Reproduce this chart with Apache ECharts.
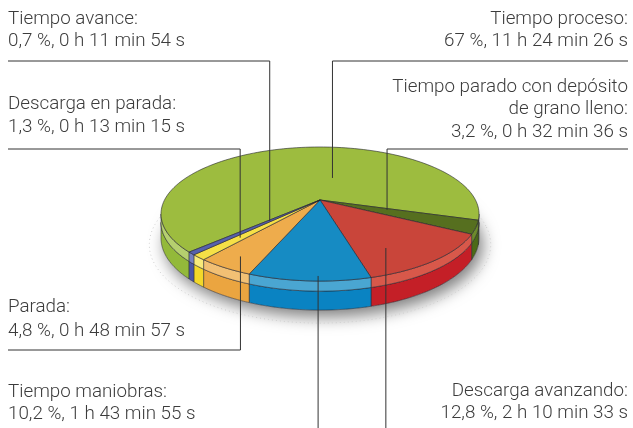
<!DOCTYPE html>
<html><head><meta charset="utf-8">
<script src="https://cdn.jsdelivr.net/npm/echarts@6/dist/echarts.min.js"></script>
<style>html,body{margin:0;padding:0;background:#fff}#c{width:633px;height:428px}</style>
</head><body><div id="c"></div>
<script>
// ---- data ----
const categories = ['Tiempo proceso', 'Tiempo parado con depósito de grano lleno', 'Descarga avanzando', 'Tiempo maniobras', 'Parada', 'Descarga en parada', 'Tiempo avance'];
const percentValues = [67, 3.2, 12.8, 10.2, 4.8, 1.3, 0.7];
const durationLabels = ['11 h 24 min 26 s', '0 h 32 min 36 s', '2 h 10 min 33 s', '1 h 43 min 55 s', '0 h 48 min 57 s', '0 h 13 min 15 s', '0 h 11 min 54 s'];
const titleLines = [['Tiempo proceso:'], ['Tiempo parado con depósito', 'de grano lleno:'], ['Descarga avanzando:'], ['Tiempo maniobras:'], ['Parada:'], ['Descarga en parada:'], ['Tiempo avance:']];

// ---- styles ----
const topColors  = ['#9dbc3f', '#566f1f', '#c9453a', '#168bc3', '#eeac4c', '#f6e046', '#5661ad'];
const rimColors  = ['#b5cf6f', '#6d8a2c', '#d8584a', '#4aa6d2', '#f2c074', '#f8ea7a', '#7680c0'];
const sideColors = ['#93b93a', '#4c6a17', '#c41f27', '#0a83c2', '#eba540', '#f3d82a', '#4a55a6'];

const G = { x0: 320, y0: 200, A: 155.5, B: 64.1, p: 0.209, rim: 8, depth: 23, start: 136 };
G.sil = Math.asin(G.p) * 180 / Math.PI;

const labelLayout = [
  { align: 'right', tx: 628, base: [25, 47], lineY: 61, lineEnd: 628, f: 0.61, r: 0.38 },
  { align: 'right', tx: 628, base: [93, 115, 138], lineY: 149, lineEnd: 628, f: 0.23, r: 0.444 },
  { align: 'right', tx: 628, base: [397, 419], lineY: null, down: 430, f: 0.69, r: 0.744 },
  { align: 'left', tx: 8, base: [398, 420], lineY: null, down: 430, f: 0.43, r: 0.95 },
  { align: 'left', tx: 8, base: [313, 337], lineY: 350, lineEnd: 8, f: 0.5, r: 0.86 },
  { align: 'left', tx: 8, base: [110, 133], lineY: 149, lineEnd: 8, f: 0.5, r: 0.695 },
  { align: 'left', tx: 8, base: [25, 47], lineY: 61, lineEnd: 8, f: 0.5, r: 0.43 }
];

// ---- geometry ----
const total = percentValues.reduce((a, b) => a + b, 0);
const bounds = [];
let acc = G.start;
percentValues.forEach(v => { const s = acc; acc += v / total * 360; bounds.push([s, acc]); });

function proj(r, deg, drop) {
  const t = deg * Math.PI / 180;
  const u = r * Math.cos(t), v = r * Math.sin(t);
  const w = 1 / (1 - G.p * v);
  return [G.x0 + G.A * u * w, G.y0 + (G.B * v + drop) * w];
}
function arcPts(r, a0, a1, drop) {
  const pts = [];
  const steps = Math.max(2, Math.ceil(Math.abs(a1 - a0) / 2));
  for (let k = 0; k <= steps; k++) pts.push(proj(r, a0 + (a1 - a0) * k / steps, drop));
  return pts;
}
function visibleRanges(a0, a1) {
  const res = [];
  [0, 360].forEach(base => {
    const lo = Math.max(a0, base + G.sil), hi = Math.min(a1, base + 180 - G.sil);
    if (hi > lo) res.push([lo, hi]);
  });
  return res;
}

const edge = 'rgba(35,35,45,0.75)';

function renderItem(params, api) {
  const i = params.dataIndex;
  const [a0, a1] = bounds[i];
  const children = [];
  if (i === 0) {
    children.push({
      type: 'polygon', z2: 0,
      shape: { points: arcPts(1, 0, 360, G.depth) },
      style: { fill: '#ffffff', shadowBlur: 16, shadowColor: 'rgba(0,0,0,0.5)', shadowOffsetX: 4, shadowOffsetY: 7 }
    });
    children.push({
      type: 'polygon', z2: 1,
      shape: { points: arcPts(1.07, 0, 360, G.depth + 4) },
      style: { fill: null, stroke: '#cfcfcf', lineWidth: 1, lineDash: [1, 3] }
    });
  }
  children.push({
    type: 'polygon', z2: 30,
    shape: { points: [proj(0, 0, 0)].concat(arcPts(1, a0, a1, 0)) },
    style: { fill: topColors[i], stroke: edge, lineWidth: 0.8, lineJoin: 'round' }
  });
  visibleRanges(a0, a1).forEach(([lo, hi]) => {
    const up = arcPts(1, lo, hi, 0);
    const midF = arcPts(1, lo, hi, G.rim);
    const midB = arcPts(1, lo, hi, G.rim).reverse();
    const bot = arcPts(1, lo, hi, G.depth).reverse();
    children.push({
      type: 'polygon', z2: 20,
      shape: { points: up.concat(midB) },
      style: { fill: rimColors[i], stroke: edge, lineWidth: 0.7 }
    });
    children.push({
      type: 'polygon', z2: 10,
      shape: { points: midF.concat(bot) },
      style: { fill: sideColors[i], stroke: edge, lineWidth: 0.7 }
    });
  });
  return { type: 'group', children };
}

// ---- labels ----
const fmt = v => String(v).replace('.', ',') + ' %, ';
const graphics = [];
const textStyle = { fontSize: 18.8, fontFamily: 'Roboto, "Liberation Sans", sans-serif', fontWeight: 300, fill: '#3c3c3c' };
categories.forEach((c, i) => {
  const L = labelLayout[i];
  const lines = titleLines[i].concat([fmt(percentValues[i]) + durationLabels[i]]);
  lines.forEach((t, k) => {
    graphics.push({
      type: 'text', z: 100, x: L.tx, y: L.base[k] - 6,
      style: Object.assign({ text: t, textAlign: L.align, textVerticalAlign: 'middle' }, textStyle)
    });
  });
  const [a0, a1] = bounds[i];
  const an = proj(L.r, a0 + L.f * (a1 - a0), 0);
  const pts = L.lineY != null
    ? [[L.lineEnd, L.lineY], [an[0], L.lineY], an]
    : [[an[0], L.down], an];
  graphics.push({
    type: 'polyline', z: 100,
    shape: { points: pts },
    style: { stroke: '#333333', lineWidth: 1, fill: null }
  });
});

const chart = echarts.init(document.getElementById('c'));
chart.setOption({
  animation: false,
  series: [{
    type: 'custom',
    coordinateSystem: 'none',
    renderItem: renderItem,
    data: percentValues.map((v, i) => ({ value: v, name: categories[i] }))
  }],
  graphic: graphics
});
</script>
</body></html>
